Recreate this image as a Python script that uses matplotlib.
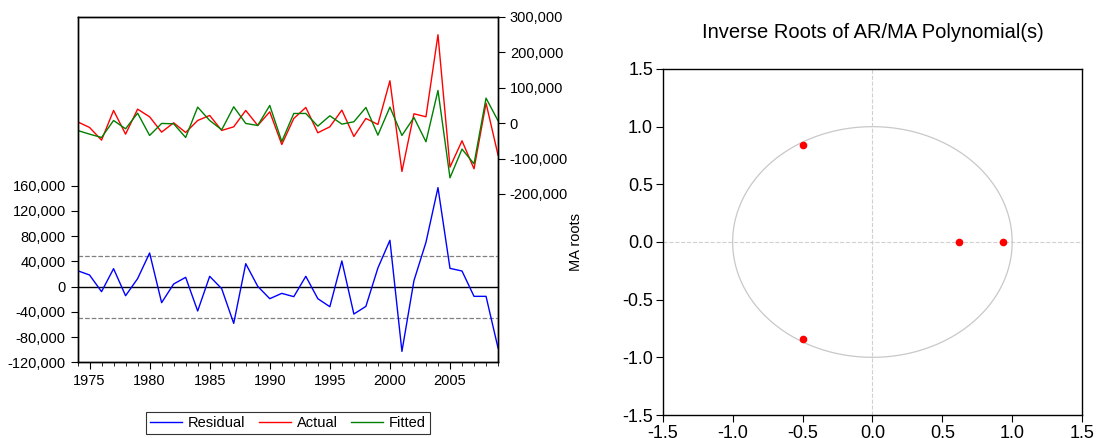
import numpy as np
import matplotlib.pyplot as plt
from matplotlib.ticker import FuncFormatter, MultipleLocator

plt.rcParams['font.family'] = ['Liberation Sans', 'DejaVu Sans']

years = np.arange(1974, 2010)

residual = [25300, 18500, -7900, 28500, -14300, 12700, 53300, -25300, 4200, 14800,
            -38500, 16400, -3200, -58100, 36400, 500, -19000, -10600, -15800, 16400,
            -19000, -31700, 40700, -43300, -31200, 29600, 73400, -102400, 9500, 70200,
            156800, 29000, 24800, -15300, -15300, -97200]
actual = [3800, -12200, -48000, 35800, -31100, 39500, 17900, -25400, 900, -26400,
          7500, 21700, -20700, -10400, 35800, -6600, 32000, -60300, 13200, 44300,
          -27300, -10400, 36700, -37700, 13200, -3800, 119600, -136500, 26400, 17900,
          249500, -124300, -49900, -129000, 56500, -90400]
fitted = [-20700, -31100, -40500, 7500, -16000, 28200, -34800, -900, -1900, -40500,
          45200, 7500, -18800, 46100, -900, -6600, 49900, -51800, 27300, 27300,
          -8500, 20700, -2800, 3800, 44300, -33900, 45200, -34800, 16000, -52700,
          92300, -154400, -73400, -114900, 70600, 6600]
se = 49000

root_re = [-0.494, -0.494, 0.617, 0.932]
root_im = [0.842, -0.842, 0.0, 0.0]

fs = 10.5
comma = FuncFormatter(lambda v, p: '{:,.0f}'.format(v))

fig = plt.figure(figsize=(10.98, 4.38), dpi=100)

# left panel: residual / actual / fitted
ax = fig.add_axes([0.0706, 0.1724, 0.383, 0.789])
ax2 = ax.twinx()
ax.set_zorder(ax2.get_zorder() + 1)
ax.patch.set_visible(False)

ax.axhline(0, color='black', lw=1)
ax.axhline(se, color='grey', lw=0.9, ls='--')
ax.axhline(-se, color='grey', lw=0.9, ls='--')
l1, = ax.plot(years, residual, color='blue', lw=1)
l2, = ax2.plot(years, actual, color='red', lw=1)
l3, = ax2.plot(years, fitted, color='green', lw=1)

ax.set_xlim(1974, 2009)
ax.set_ylim(-120000, 427000)
ax.set_yticks(np.arange(-120000, 160001, 40000))
ax.yaxis.set_major_formatter(comma)
ax.xaxis.set_minor_locator(MultipleLocator(1))
ax.set_xticks(np.arange(1975, 2006, 5))
ax.tick_params(axis='both', which='major', direction='out', length=5, labelsize=fs)
ax.tick_params(axis='x', which='minor', direction='out', length=3)

ax2.set_ylim(-676000, 300000)
ax2.set_yticks(np.arange(-200000, 300001, 100000))
ax2.yaxis.set_major_formatter(comma)
ax2.tick_params(axis='y', direction='out', length=5, labelsize=fs)

for a in (ax, ax2):
    for s in a.spines.values():
        s.set_linewidth(1)

leg = fig.legend([l1, l2, l3], ['Residual', 'Actual', 'Fitted'], loc='center',
                 bbox_to_anchor=(288 / 1098, 1 - 423 / 438), ncol=3, fontsize=fs,
                 frameon=True, fancybox=False, edgecolor='black', handlelength=2.2,
                 borderpad=0.3, columnspacing=0.9, handletextpad=0.4)
leg.get_frame().set_linewidth(0.8)

# right panel: inverse roots
bx = fig.add_axes([0.6036, 0.0525, 0.3819, 0.790])
t = np.linspace(0, 2 * np.pi, 400)
bx.plot(np.cos(t), np.sin(t), color='#c8c8c8', lw=0.9)
bx.axhline(0, color='#d0d0d0', lw=0.8, ls='--')
bx.axvline(0, color='#d0d0d0', lw=0.8, ls='--')
bx.plot(root_re, root_im, 'o', color='red', ms=4.5, mec='red')
bx.set_xlim(-1.5, 1.5)
bx.set_ylim(-1.5, 1.5)
bx.set_xticks(np.arange(-1.5, 1.51, 0.5))
bx.set_yticks(np.arange(-1.5, 1.51, 0.5))
bx.xaxis.set_major_formatter(FuncFormatter(lambda v, p: '{:.1f}'.format(v)))
bx.yaxis.set_major_formatter(FuncFormatter(lambda v, p: '{:.1f}'.format(v)))
bx.tick_params(direction='out', length=5, labelsize=13, pad=2)
bx.set_title('Inverse Roots of AR/MA Polynomial(s)', fontsize=14.5, pad=22)
bx.set_ylabel('MA roots', fontsize=fs, labelpad=28)
for s in bx.spines.values():
    s.set_linewidth(1)

fig.savefig('out.png', dpi=100)
